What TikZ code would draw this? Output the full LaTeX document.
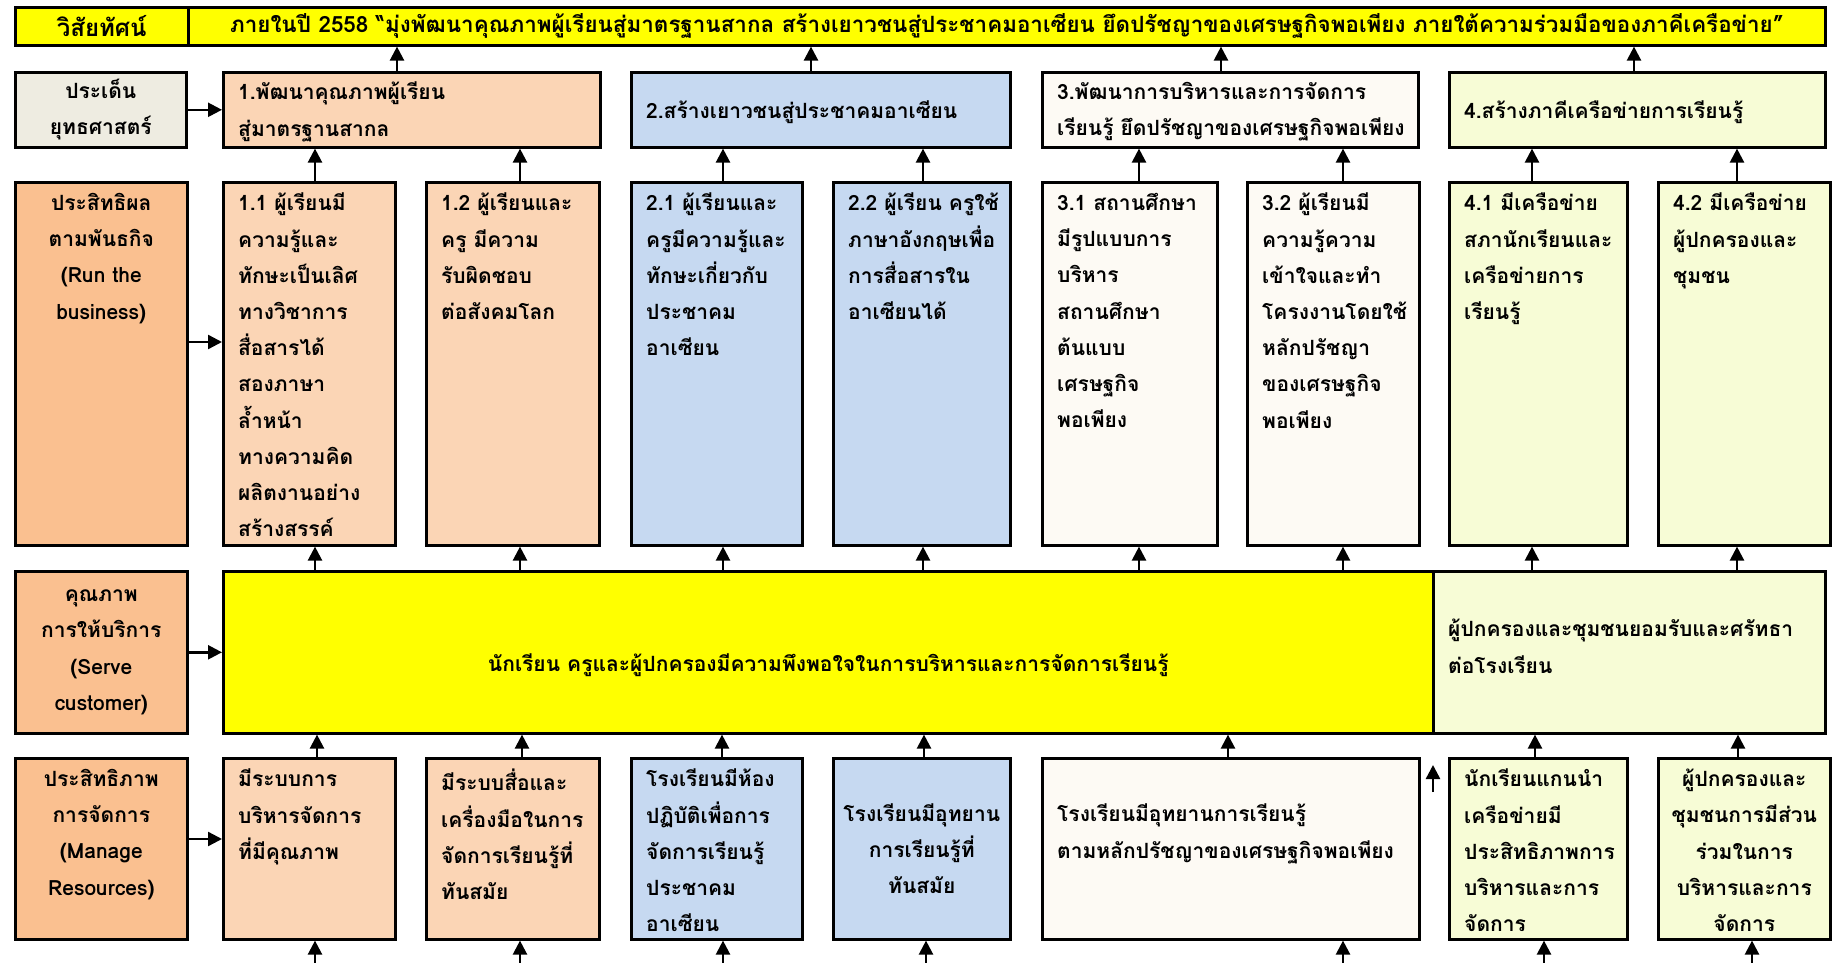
\documentclass[tikz,border=0pt]{standalone}
\usepackage{fontspec}
\usepackage{xcolor}
\usetikzlibrary{arrows.meta}
\newfontfamily\thaifont[Script=Thai]{Loma}

\definecolor{visionyellow}{HTML}{FFFF00}
\definecolor{issuegray}{HTML}{EEECE1}
\definecolor{headorange}{HTML}{FAC090}
\definecolor{lightorange}{HTML}{FBD5B5}
\definecolor{lightblue}{HTML}{C6D9F1}
\definecolor{cream}{HTML}{FDFAF4}
\definecolor{lightlime}{HTML}{F7FCD6}

\begin{document}
\begin{tikzpicture}[x=1pt,y=-1pt,
  every node/.style={font=\thaifont\bfseries\fontsize{21}{36.2}\selectfont},
  box/.style n args={3}{draw,line width=2.6pt,fill=#1,anchor=north west,inner sep=0pt,
    minimum width=#2pt,minimum height=#3pt},
  tl/.style={label={[anchor=north west,align=left,inner xsep=16pt,inner ysep=12pt]north west:{#1}}},
  tc/.style={label={[anchor=north,align=center,inner ysep=12pt]north:{#1}}},
  ml/.style 2 args={label={[anchor=west,align=left,inner xsep=16pt,yshift=#1pt]west:{#2}}},
  arr/.style={line width=2.4pt,-{Triangle[width=14pt,length=14pt]}}]
\useasboundingbox (0,0) rectangle (1832,963);

% vision
\node[box={visionyellow}{173}{38},font=\thaifont\bfseries\fontsize{24}{28}\selectfont] (visionlbl) at (14,6) {วิสัยทัศน์};
\node[box={visionyellow}{1637}{38},font=\thaifont\bfseries\fontsize{22.4}{28}\selectfont] (vision) at (187,6) {ภายในปี  2558 “มุ่งพัฒนาคุณภาพผู้เรียนสู่มาตรฐานสากล สร้างเยาวชนสู่ประชาคมอาเซียน  ยึดปรัชญาของเศรษฐกิจพอเพียง ภายใต้ความร่วมมือของภาคีเครือข่าย”};

% strategic issues
\node[box={issuegray}{171}{75},align=center] (issue) at (14,71) {ประเด็น\\ยุทธศาสตร์};
\node[box={lightorange}{377}{75},ml={-2}{1.พัฒนาคุณภาพผู้เรียน\\สู่มาตรฐานสากล}] (s1) at (222,71) {};
\node[box={lightblue}{379}{75},ml={-2}{2.สร้างเยาวชนสู่ประชาคมอาเซียน}] (s2) at (630,71) {};
\node[box={cream}{376}{75},ml={-2}{3.พัฒนาการบริหารและการจัดการ\\เรียนรู้ ยึดปรัชญาของเศรษฐกิจพอเพียง}] (s3) at (1041,71) {};
\node[box={lightlime}{376}{75},ml={-2}{4.สร้างภาคีเครือข่ายการเรียนรู้}] (s4) at (1448,71) {};

% run the business
\node[box={headorange}{172}{363},tc={ประสิทธิผล\\ตามพันธกิจ\\(Run the\\business)}] (run) at (14,181) {};
\node[box={lightorange}{172}{363},tl={1.1 ผู้เรียนมี\\ความรู้และ\\ทักษะเป็นเลิศ\\ทางวิชาการ\\สื่อสารได้\\สองภาษา\\ล้ำหน้า\\ทางความคิด\\ผลิตงานอย่าง\\สร้างสรรค์}] (g11) at (222,181) {};
\node[box={lightorange}{173}{363},tl={1.2 ผู้เรียนและ\\ครู มีความ\\รับผิดชอบ\\ต่อสังคมโลก}] (g12) at (425,181) {};
\node[box={lightblue}{171}{363},tl={2.1 ผู้เรียนและ\\ครูมีความรู้และ\\ทักษะเกี่ยวกับ\\ประชาคม\\อาเซียน}] (g21) at (630,181) {};
\node[box={lightblue}{177}{363},tl={2.2 ผู้เรียน ครูใช้\\ภาษาอังกฤษเพื่อ\\การสื่อสารใน\\อาเซียนได้}] (g22) at (832,181) {};
\node[box={cream}{175}{363},tl={3.1 สถานศึกษา\\มีรูปแบบการ\\บริหาร\\สถานศึกษา\\ต้นแบบ\\เศรษฐกิจ\\พอเพียง}] (g31) at (1041,181) {};
\node[box={cream}{172}{363},tl={3.2 ผู้เรียนมี\\ความรู้ความ\\เข้าใจและทำ\\โครงงานโดยใช้\\หลักปรัชญา\\ของเศรษฐกิจ\\พอเพียง}] (g32) at (1246,181) {};
\node[box={lightlime}{178}{363},tl={4.1 มีเครือข่าย\\สภานักเรียนและ\\เครือข่ายการ\\เรียนรู้}] (g41) at (1448,181) {};
\node[box={lightlime}{172}{363},tl={4.2 มีเครือข่าย\\ผู้ปกครองและ\\ชุมชน}] (g42) at (1657,181) {};

% serve customer
\node[box={headorange}{172}{162},align=center] (serve) at (14,570) {คุณภาพ\\การให้บริการ\\(Serve\\customer)};
\node[box={visionyellow}{1210}{162},label={[yshift=-13pt]center:{นักเรียน ครูและผู้ปกครองมีความพึงพอใจในการบริหารและการจัดการเรียนรู้}}] (q1) at (222,570) {};
\node[box={lightlime}{392}{162},ml={6}{ผู้ปกครองและชุมชนยอมรับและศรัทธา\\ต่อโรงเรียน}] (q2) at (1432,570) {};

% manage resources
\node[box={headorange}{172}{181},tc={ประสิทธิภาพ\\การจัดการ\\(Manage\\Resources)}] (manage) at (14,757) {};
\node[box={lightorange}{172}{181},tl={มีระบบการ\\บริหารจัดการ\\ที่มีคุณภาพ}] (r11) at (222,757) {};
\node[box={lightorange}{173}{181},tl={มีระบบสื่อและ\\เครื่องมือในการ\\จัดการเรียนรู้ที่\\ทันสมัย}] (r12) at (425,757) {};
\node[box={lightblue}{171}{181},tl={โรงเรียนมีห้อง\\ปฏิบัติเพื่อการ\\จัดการเรียนรู้\\ประชาคม\\อาเซียน}] (r21) at (630,757) {};
\node[box={lightblue}{177}{181},align=center] (r22) at (832,757) {โรงเรียนมีอุทยาน\\การเรียนรู้ที่\\ทันสมัย};
\node[box={cream}{377}{181},ml={15}{โรงเรียนมีอุทยานการเรียนรู้\\ตามหลักปรัชญาของเศรษฐกิจพอเพียง}] (r3) at (1041,757) {};
\node[box={lightlime}{178}{181},tl={นักเรียนแกนนำ\\เครือข่ายมี\\ประสิทธิภาพการ\\บริหารและการ\\จัดการ}] (r41) at (1448,757) {};
\node[box={lightlime}{172}{181},tc={ผู้ปกครองและ\\ชุมชนการมีส่วน\\ร่วมในการ\\บริหารและการ\\จัดการ}] (r42) at (1657,757) {};

\coordinate (pagebottom) at (0,963);
\coordinate (lonefoot) at (1433,792);
\coordinate (lonetip) at (1433,765);

\draw[arr] (issue.east) -- (s1.west);
\draw[arr] (run.east |- 0,342) -- (g11.west |- 0,342);
\draw[arr] (serve.east) -- (serve.east -| q1.west);
\draw[arr] (manage.east |- 0,839) -- (r11.west |- 0,839);

\foreach \x/\from/\to in {397/s1/vision,811/s2/vision,1221/s3/vision,1634/s4/vision,
  315/g11/s1,520/g12/s1,723/g21/s2,923/g22/s2,1139/g31/s3,1343/g32/s3,1532/g41/s4,1737/g42/s4,
  315/q1/g11,520/q1/g12,723/q1/g21,923/q1/g22,1139/q1/g31,1343/q1/g32,1532/q2/g41,1737/q2/g42,
  317/r11/q1,522/r12/q1,722/r21/q1,924/r22/q1,1228/r3/q1,1535/r41/q2,1738/r42/q2}
  \draw[arr] (\x,0 |- \from.north) -- (\x,0 |- \to.south);
\foreach \x/\to in {315/r11,520/r12,723/r21,926/r22,1343/r3,1544/r41,1752/r42}
  \draw[arr] (\x,0 |- pagebottom) -- (\x,0 |- \to.south);
\draw[arr] (lonefoot) -- (lonetip);
\end{tikzpicture}
\end{document}
